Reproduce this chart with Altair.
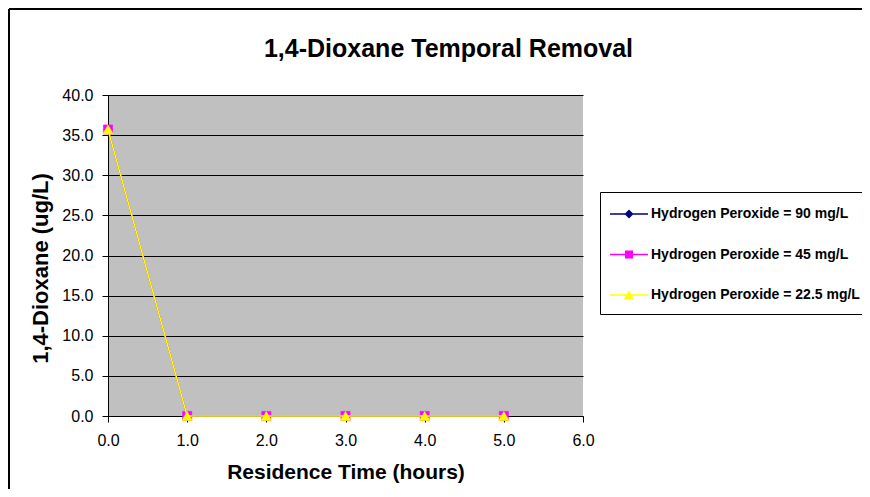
import altair as alt
import pandas as pd

# ---- data ----
times = [0.0, 1.0, 2.0, 3.0, 4.0, 5.0]
series_names = [
    "Hydrogen Peroxide = 90 mg/L",
    "Hydrogen Peroxide = 45 mg/L",
    "Hydrogen Peroxide = 22.5 mg/L",
]
h2o2_90 = [35.7, 0.0, 0.0, 0.0, 0.0, 0.0]
h2o2_45 = [35.7, 0.0, 0.0, 0.0, 0.0, 0.0]
h2o2_22_5 = [35.7, 0.0, 0.0, 0.0, 0.0, 0.0]
series_values = [h2o2_90, h2o2_45, h2o2_22_5]

colors = ["#000080", "#FF00FF", "#FFFF00"]
shapes = ["diamond", "square", "triangle-up"]
point_sizes = [75, 85, 110]
line_widths = [1.2, 1.2, 1.6]
LINE = "M-1.2,-0.065L2.6,-0.065L2.6,0.065L-1.2,0.065Z"
legend_paths = [
    LINE + "M0.7,-0.45L1.15,0L0.7,0.45L0.25,0Z",
    LINE + "M0.3,-0.4L1.1,-0.4L1.1,0.4L0.3,0.4Z",
    LINE + "M0.7,-0.45L1.2,0.4L0.2,0.4Z",
]
x_ticks = [0, 1, 2, 3, 4, 5, 6]
y_ticks = [0, 5, 10, 15, 20, 25, 30, 35, 40]

FONT = "Liberation Sans"

rows = []
for name, vals in zip(series_names, series_values):
    for t, v in zip(times, vals):
        rows.append({"time": t, "value": v, "series": name})
df = pd.DataFrame(rows)

x_enc = alt.X(
    "time:Q",
    scale=alt.Scale(domain=[0, 6], nice=False),
    axis=alt.Axis(
        values=x_ticks, format=".1f", grid=False, title="Residence Time (hours)",
        domainColor="black", tickColor="black", tickSize=6, labelFlush=False,
        labelFontSize=16, labelColor="black", labelPadding=10,
        titleFontSize=21, titleFontWeight="bold", titleColor="black",
        titleY=62, titleBaseline="alphabetic",
    ),
)
y_enc = alt.Y(
    "value:Q",
    scale=alt.Scale(domain=[0, 40], nice=False),
    axis=alt.Axis(
        values=y_ticks, format=".1f", grid=True, gridColor="black", gridOpacity=1,
        gridWidth=1, title="1,4-Dioxane (ug/L)", labelFlush=False,
        domainColor="black", tickColor="black", tickSize=6,
        labelFontSize=16, labelColor="black", labelPadding=9,
        titleFontSize=22, titleFontWeight="bold", titleColor="black",
        titleX=-61, titleY=173, titleBaseline="alphabetic",
    ),
)

layers = []

frame_df = pd.DataFrame({"k": [0]})
layers.append(
    alt.Chart(frame_df).mark_rule(color="black", strokeWidth=2).encode(
        x=alt.value(-99), y=alt.value(-86), y2=alt.value(420)
    )
)
layers.append(
    alt.Chart(frame_df).mark_rule(color="black", strokeWidth=2).encode(
        x=alt.value(-99), x2=alt.value(800), y=alt.value(-86)
    )
)

for name, col, shp, sz, lw in zip(series_names, colors, shapes, point_sizes, line_widths):
    sub = df[df["series"] == name]
    base = alt.Chart(sub)
    layers.append(base.mark_line(color=col, strokeWidth=lw).encode(x=x_enc, y=y_enc))
    layers.append(
        base.mark_point(filled=True, fill=col, stroke=col, strokeWidth=0.5,
                        shape=shp, size=sz, opacity=1).encode(x=x_enc, y=y_enc)
    )

legend = alt.Legend(
    title=None, orient="none", legendX=492, legendY=97,
    symbolSize=400, symbolStrokeWidth=0, symbolOpacity=1,
    labelFont=FONT, labelFontSize=14, labelFontWeight="bold", labelColor="black",
    labelOffset=19, rowPadding=23.5, padding=12,
    strokeColor="black", fillColor="white", labelLimit=400,
)
legend_layer = alt.Chart(df).mark_point(filled=True, opacity=0).encode(
    x=x_enc,
    y=y_enc,
    color=alt.Color("series:N", scale=alt.Scale(domain=series_names, range=colors), legend=legend),
    shape=alt.Shape("series:N", scale=alt.Scale(domain=series_names, range=legend_paths), legend=legend),
)
layers.append(legend_layer)

chart = alt.layer(*layers).properties(
    width=475,
    height=321,
    padding={"left": 100, "top": 87, "right": 279, "bottom": 73},
    autosize=alt.AutoSizeParams(type="none"),
    title=alt.TitleParams(
        "1,4-Dioxane Temporal Removal", fontSize=25, fontWeight="bold", font=FONT,
        color="black", anchor="middle", dx=103, offset=-74, baseline="alphabetic",
    ),
).configure(
    font=FONT, background="white"
).configure_view(
    fill="#C0C0C0", stroke=None
).configure_axis(
    labelFont=FONT, titleFont=FONT
)

chart.save("out.html", embed_options={"renderer": "svg", "actions": False})
